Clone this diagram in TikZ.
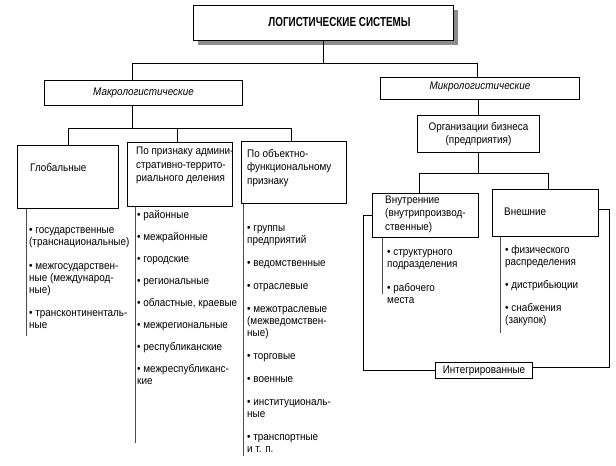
\documentclass[tikz,border=0pt]{standalone}
\usepackage{fontspec}
\setmainfont{Liberation Sans}[FakeStretch=0.9]
\newfontfamily\titlefont{Liberation Sans}[FakeStretch=0.76]
\usepackage{tikz}
\usetikzlibrary{shadows}

\newcommand{\lbul}{\textbullet\ }

\tikzset{
  box/.style={draw, line width=1pt, anchor=north west, inner sep=0pt,
    font=\fontsize{11}{13.5}\selectfont},
  txt/.style={anchor=north west, inner sep=0pt, align=left,
    font=\fontsize{11}{13.5}\selectfont, execute at begin node=\strut},
  lst/.style={anchor=north west, inner sep=0pt, align=left,
    font=\fontsize{11}{12}\selectfont, execute at begin node=\strut},
  conn/.style={line width=0.9pt},
  rule/.style={line width=0.7pt, black!70}
}

\begin{document}
\begin{tikzpicture}[x=1pt,y=-1pt]
  \path[fill=white] (0,0) rectangle (616,466);

  \node[box, fill=white, minimum width=260pt, minimum height=35pt,
    drop shadow={shadow xshift=4pt, shadow yshift=-4pt, fill=black!45, opacity=1}]
    (title) at (193,5) {};
  \node[font={\titlefont\bfseries\fontsize{13}{14}\selectfont}] (titletxt) at (339.5,22)
    {ЛОГИСТИЧЕСКИЕ СИСТЕМЫ};

  \node[box, minimum width=198pt, minimum height=25pt] (makro) at (44,80)
    {\itshape Макрологистические};
  \node[box, minimum width=199pt, minimum height=22pt, text depth=5pt] (mikro) at (380,77)
    {\itshape Микрологистические};

  % macro level
  \node[box, minimum width=101pt, minimum height=63pt] (glob) at (17,145) {};
  \node[box, minimum width=105pt, minimum height=64pt] (adm) at (127,142) {};
  \node[box, minimum width=105pt, minimum height=62pt] (obj) at (241,141) {};

  \node[txt] (globtxt) at ([xshift=13pt,yshift=-17pt]glob.north west) {Глобальные};
  \node[txt] (admtxt) at ([xshift=9pt,yshift=-5pt]adm.north west)
    {По признаку админи-\\стративно-террито-\\риального деления};
  \node[txt] (objtxt) at ([xshift=6pt,yshift=-8pt]obj.north west)
    {По объектно-\\функциональному\\признаку};

  \node[lst] (globlist) at ([xshift=12pt,yshift=-18.6pt]glob.south west)
    {\lbul государственные\\(транснациональные)\\[11.5pt]
     \lbul межгосударствен-\\ные (международ-\\ные)\\[11.5pt]
     \lbul трансконтиненталь-\\ные};
  \node[lst] (admlist) at ([xshift=10pt,yshift=-3.6pt]adm.south west)
    {\lbul районные\\[10pt]
     \lbul межрайонные\\[10pt]
     \lbul городские\\[10pt]
     \lbul региональные\\[10pt]
     \lbul областные, краевые\\[10pt]
     \lbul межрегиональные\\[10pt]
     \lbul республиканские\\[10pt]
     \lbul межреспубликанс-\\кие};
  \node[lst] (objlist) at ([xshift=6pt,yshift=-21.6pt]obj.south west)
    {\lbul группы\\предприятий\\[11pt]
     \lbul ведомственные\\[11pt]
     \lbul отраслевые\\[11pt]
     \lbul межотраслевые\\(межведомствен-\\ные)\\[11pt]
     \lbul торговые\\[11pt]
     \lbul военные\\[11pt]
     \lbul институциональ-\\ные\\[11pt]
     \lbul транспортные\\и т. п.};

  \draw[conn] (title.south) -- ++(0,22) -| ([xshift=-11pt]makro.north);
  \draw[conn] (title.south) -- ++(0,22) -| ([xshift=-2.5pt]mikro.north);
  \draw[conn] ([xshift=-11pt]makro.south) -- ++(0,22) -| (glob.north);
  \draw[conn] ([xshift=-11pt]makro.south) -- ++(0,22) -| ([xshift=-2.5pt]adm.north);
  \draw[conn] ([xshift=-11pt]makro.south) -- ++(0,22) -| ([xshift=-2.5pt]obj.north);

  \draw[rule] ([xshift=9pt]glob.south west) -- ++(0,127);
  \draw[rule] ([xshift=8pt]adm.south west) -- ++(0,236);
  \draw[rule] ([xshift=2pt]obj.south west) -- ++(0,252);

  % micro level
  \node[box, minimum width=122pt, minimum height=37pt, align=center] (org) at (417,115)
    {Организации бизнеса\\(предприятия)};
  \node[box, minimum width=106pt, minimum height=44pt] (intern) at (372,193) {};
  \node[box, minimum width=106pt, minimum height=47pt] (extern) at (492,189) {};
  \node[box, minimum width=97pt, minimum height=16pt] (integ) at (435,362) {Интегрированные};

  \node[txt] (intxt) at ([xshift=13pt,yshift=-2.5pt]intern.north west)
    {Внутренние\\(внутрипроизвод-\\ственные)};
  \node[txt] (exttxt) at ([xshift=12pt,yshift=-17pt]extern.north west) {Внешние};

  \node[lst] (inlist) at ([xshift=15pt,yshift=-11.6pt]intern.south west)
    {\lbul структурного\\подразделения\\[12pt]
     \lbul рабочего\\места};
  \node[lst] (extlist) at ([xshift=13pt,yshift=-8.6pt]extern.south west)
    {\lbul физического\\распределения\\[11pt]
     \lbul дистрибьюции\\[11pt]
     \lbul снабжения\\(закупок)};

  \draw[conn] (org.north) -- (org.north |- mikro.south);
  \draw[conn] (org.south) -- ++(0,20) -| ([xshift=-6pt]intern.north);
  \draw[conn] (org.south) -- ++(0,20) -| ([xshift=3pt]extern.north);

  % integrated
  \draw[conn] (intern.west) -- ++(-9,0) |- (integ.west);
  \draw[conn] ([yshift=4pt]extern.east) -- ++(10,0) |- ([yshift=3pt]integ.east);

  \draw[rule] ([xshift=10pt]intern.south west) -- ++(0,56);
  \draw[rule] ([xshift=8pt]extern.south west) -- ++(0,96);
\end{tikzpicture}
\end{document}
